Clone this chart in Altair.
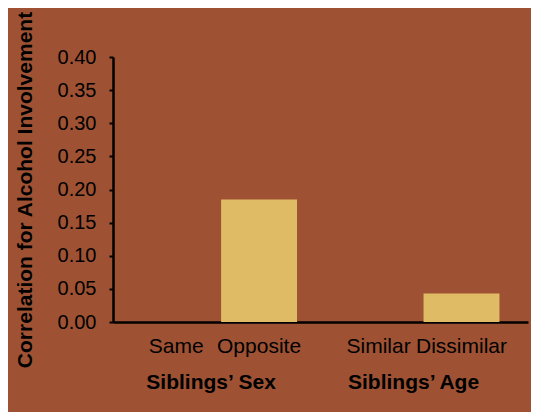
import altair as alt
import pandas as pd

groups = ["Siblings’ Sex", "Siblings’ Sex", "Siblings’ Age", "Siblings’ Age"]
slots = ["first", "second", "first", "second"]
categories = ["Same", "Opposite", "Similar", "Dissimilar"]
values = [0.0, 0.185, 0.0, 0.043]
shown = ["Opposite", "Dissimilar"]
group_order = ["Siblings’ Sex", "Siblings’ Age"]
slot_order = ["first", "second"]
y_ticks = [0.0, 0.05, 0.10, 0.15, 0.20, 0.25, 0.30, 0.35, 0.40]

BG = "#9E5233"
BAR = "#E0BB66"
FONT = "Liberation Sans"

df = pd.DataFrame({"group": groups, "slot": slots, "category": categories, "value": values})

x_enc = alt.X("group:N", sort=group_order,
              scale=alt.Scale(domain=group_order, paddingInner=0.25, paddingOuter=0.15,
                              align=0.53),
              axis=alt.Axis(title=None, labelFontSize=21, labelFontWeight="bold",
                            labelColor="black", labelPadding=49, ticks=False,
                            domainColor="black", domainWidth=2.5, labelAngle=0,
                            labelOffset=-10, labelFont=FONT))
xo_enc = alt.XOffset("slot:N", sort=slot_order,
                     scale=alt.Scale(domain=slot_order, paddingInner=0, paddingOuter=0))

bars = alt.Chart(df).mark_bar(strokeWidth=0).encode(
    x=x_enc,
    xOffset=xo_enc,
    y=alt.Y("value:Q",
            scale=alt.Scale(domain=[0, 0.4], nice=False),
            axis=alt.Axis(title="Correlation for Alcohol Involvement", values=y_ticks,
                          format=".2f", labelFontSize=20, labelColor="black",
                          labelFont=FONT, titleFont=FONT, titleFontSize=21,
                          titleFontWeight="bold", titleColor="black", titlePadding=22,
                          tickSize=4, tickWidth=2, tickColor="black",
                          domainColor="black", domainWidth=2.5, grid=False,
                          labelPadding=13)),
    color=alt.condition(alt.FieldOneOfPredicate(field="category", oneOf=shown),
                        alt.value(BAR), alt.value(BG)),
)

def cat_labels(slot, dx):
    return alt.Chart(df).transform_filter(alt.datum.slot == slot).mark_text(
        fontSize=21, font=FONT, color="black", baseline="middle", align="center", dx=dx
    ).encode(
        x=alt.X("group:N", sort=group_order),
        xOffset=alt.XOffset("slot:N", sort=slot_order),
        y=alt.value(290),
        text="category:N",
    )

chart = alt.layer(bars, cat_labels("first", -7), cat_labels("second", 0)).properties(
    width=415, height=265,
    padding={"left": 105, "top": 49, "right": 3, "bottom": 90},
    autosize=alt.AutoSizeParams(type="none"),
).configure(background=BG).configure_view(stroke=None)

chart.save("out.html", embed_options={"renderer": "svg", "actions": False})
